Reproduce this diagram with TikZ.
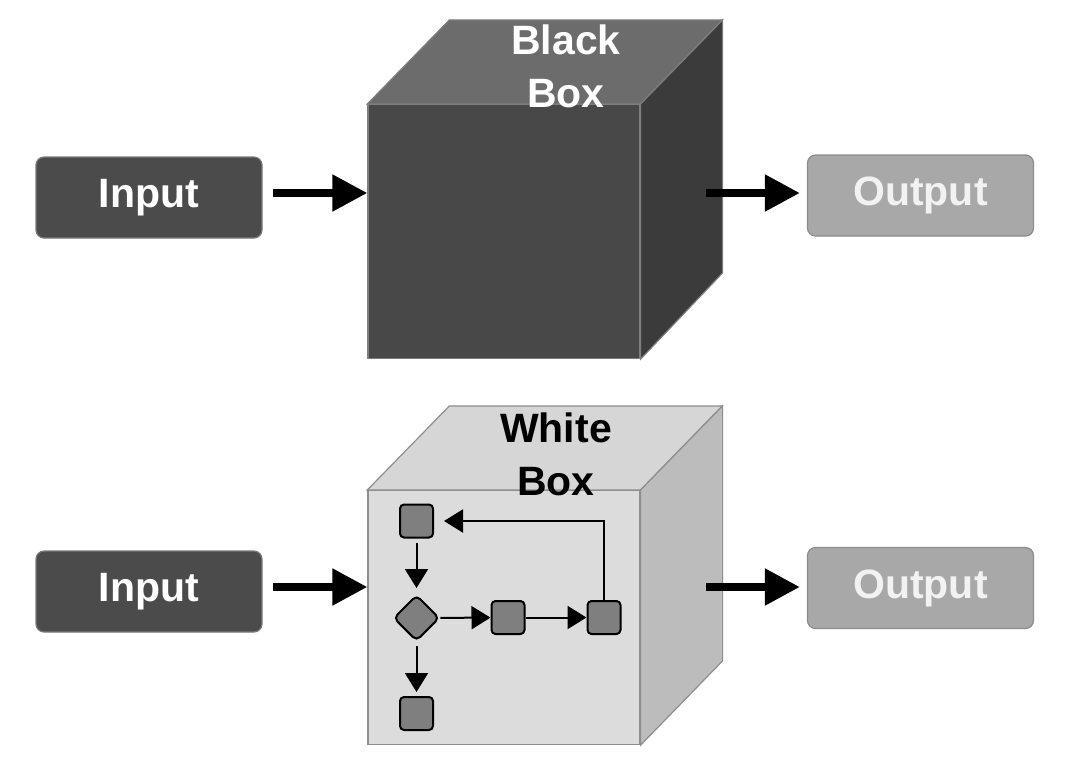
\documentclass[tikz,border=0pt]{standalone}
\usepackage{fontspec}
\setmainfont{Liberation Sans}
\usepackage{xcolor}
\usepackage{tikz}
\usetikzlibrary{arrows.meta,positioning,calc,shapes.geometric}
\definecolor{inbox}{HTML}{4B4B4B}
\definecolor{inline}{HTML}{7A7A7A}
\definecolor{outbox}{HTML}{A8A8A8}
\definecolor{outline}{HTML}{8C8C8C}
\definecolor{outtext}{HTML}{F2F2F2}
\definecolor{bbfront}{HTML}{484848}
\definecolor{bbtop}{HTML}{6C6C6C}
\definecolor{bbside}{HTML}{3B3B3B}
\definecolor{bbedge}{HTML}{7E7E7E}
\definecolor{wbfront}{HTML}{DCDCDC}
\definecolor{wbtop}{HTML}{D6D6D6}
\definecolor{wbside}{HTML}{BCBCBC}
\definecolor{wbedge}{HTML}{8E8E8E}
\definecolor{stepfill}{HTML}{7F7F7F}
\newcommand{\boxfont}{\bfseries\fontsize{20.5}{26.5}\selectfont}
\tikzset{
  iobox/.style={rounded corners=4pt, line width=0.6pt, minimum width=113pt,
    minimum height=40.5pt, inner sep=0pt, font=\boxfont},
  inputbox/.style={iobox, fill=inbox, draw=inline, text=white},
  outputbox/.style={iobox, fill=outbox, draw=outline, text=outtext},
  cubefront/.style={minimum width=136pt, minimum height=127pt, inner sep=0pt,
    line width=0.6pt},
  bigarrow/.style={line width=4pt, -{Triangle[length=17.5pt,width=17.5pt]}},
  flowbox/.style={draw=black, fill=stepfill, line width=1pt, rounded corners=2pt,
    minimum size=16.5pt, inner sep=0pt},
  flowdecision/.style={diamond, draw=black, fill=stepfill, line width=1pt,
    rounded corners=2.5pt, minimum size=23pt, inner sep=0pt},
  flowarrow/.style={line width=1pt, -{Triangle[length=9.5pt,width=11.5pt]}},
}

\begin{document}
\begin{tikzpicture}[x=0.5pt, y=-0.5pt]
  \useasboundingbox[fill=white] (0,0) rectangle (1077,762);
  \def\dx{82}
  \def\dy{84}

  \node[inputbox] (in1) at (149,197.5) {Input};
  \node[outputbox] (out1) at (920.5,195.5) {Output};
  \node[cubefront, fill=bbfront, draw=bbedge] (bb) at (504,231.5) {};
  \filldraw[fill=bbtop, draw=bbedge, line width=0.6pt]
    (bb.north west) -- ++(\dx,-\dy) -- ++(273,0) -- (bb.north east) -- cycle;
  \filldraw[fill=bbside, draw=bbedge, line width=0.6pt]
    (bb.north east) -- ++(\dx,-\dy) -- ++(0,253) -- (bb.south east) -- cycle;
  \node[text=white, font=\boxfont, align=center] (bblabel) at (566,66) {Black\\Box};
  \coordinate (bbout) at (706,193);
  \draw[bigarrow, shorten <=5pt] (in1.east |- 0,193) -- (bb.west |- 0,193);
  \draw[bigarrow, shorten >=3.5pt] (bbout) -- (out1.west |- 0,193);

  \node[inputbox] (in2) at (149,591.5) {Input};
  \node[outputbox] (out2) at (920.5,588) {Output};
  \node[cubefront, fill=wbfront, draw=wbedge] (wb) at (504,617.5) {};
  \filldraw[fill=wbtop, draw=wbedge, line width=0.6pt]
    (wb.north west) -- ++(\dx,-\dy) -- ++(273,0) -- (wb.north east) -- cycle;
  \filldraw[fill=wbside, draw=wbedge, line width=0.6pt]
    (wb.north east) -- ++(\dx,-\dy) -- ++(0,255) -- (wb.south east) -- cycle;
  \node[text=black, font=\boxfont, align=center] (wblabel) at (556,454) {White\\Box};
  \coordinate (wbout) at (706,587);
  \draw[bigarrow, shorten <=5pt] (in2.east |- 0,587) -- (wb.west |- 0,587);
  \draw[bigarrow, shorten >=3.5pt] (wbout) -- (out2.west |- 0,587);

  \node[flowbox] (s1) at (416.5,521) {};
  \node[flowdecision] (d1) at (416.5,618) {};
  \node[flowbox] (s2) at (508,617.5) {};
  \node[flowbox] (s3) at (604,617.5) {};
  \node[flowbox] (s4) at (416.5,713.5) {};
  \draw[flowarrow, shorten <=2pt, shorten >=3pt] (s1) -- (d1);
  \draw[flowarrow, shorten <=2pt, shorten >=2pt] (d1) -- (s4);
  \draw[flowarrow] (d1) -- (s2);
  \draw[flowarrow] (s2) -- (s3);
  \draw[flowarrow, shorten >=5pt] (s3.north) |- (s1.east);
\end{tikzpicture}
\end{document}
